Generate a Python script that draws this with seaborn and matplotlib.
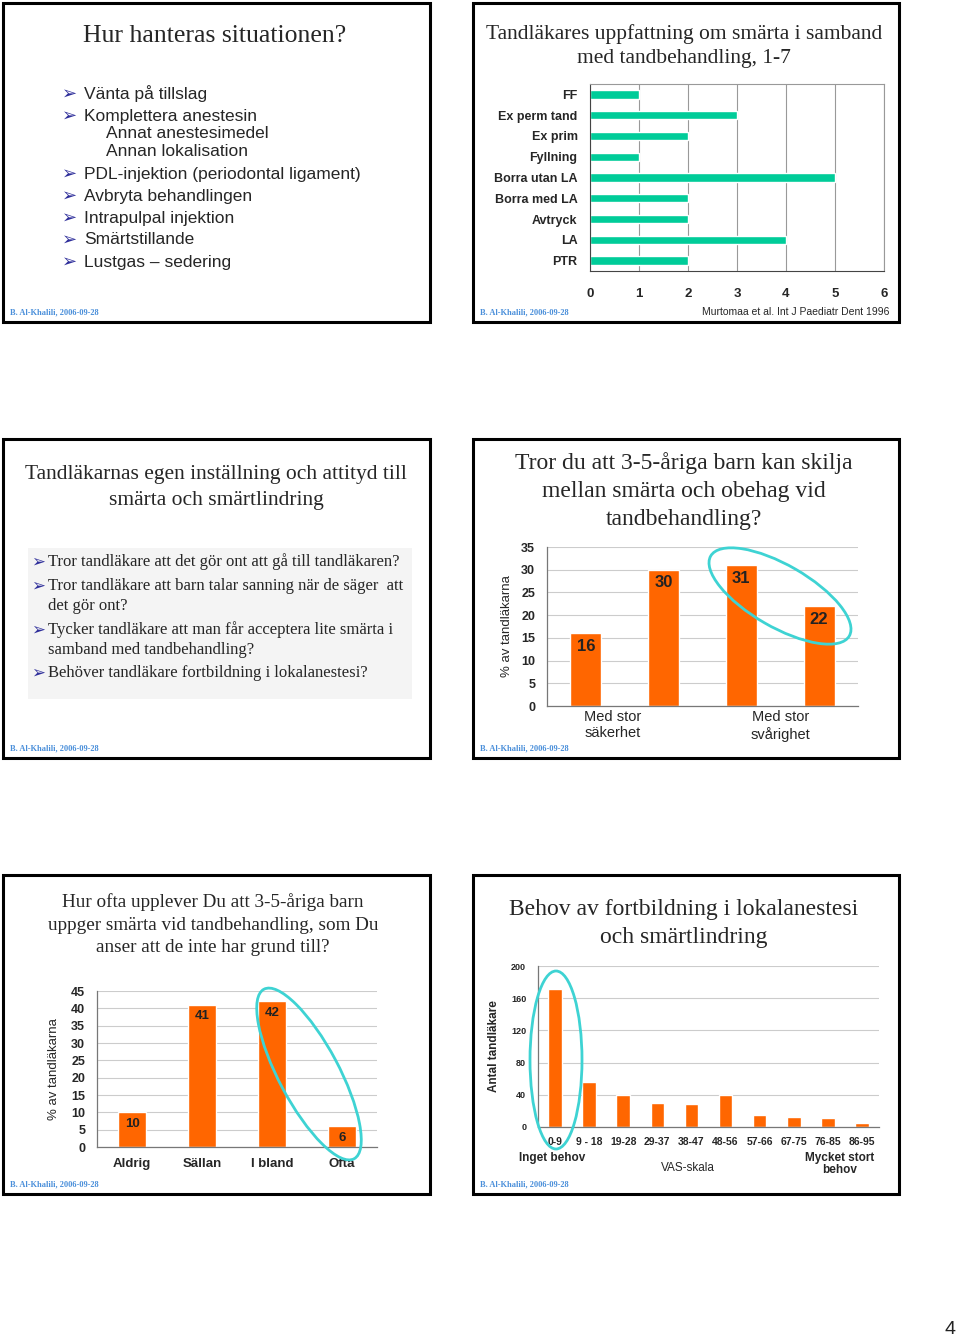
import matplotlib
matplotlib.use("Agg")
import numpy as np
import matplotlib.pyplot as plt
from matplotlib.patches import Rectangle, Ellipse
import seaborn as sns

# data
treat_labels = ["FF", "Ex perm tand", "Ex prim", "Fyllning", "Borra utan LA",
                "Borra med LA", "Avtryck", "LA", "PTR"]
treat_scores = [1, 3, 2, 1, 5, 2, 2, 4, 2]

skilja_bars = ["säkerhet a", "säkerhet b", "svårighet a", "svårighet b"]
skilja_vals = [16, 30, 31, 22]
skilja_groups = ["Med stor\nsäkerhet", "Med stor\nsvårighet"]

freq_cats = ["Aldrig", "Sällan", "I bland", "Ofta"]
freq_vals = [10, 41, 42, 6]

vas_cats = ["0-9", "9 - 18", "19-28", "29-37", "38-47", "48-56", "57-66", "67-75", "76-85", "86-95"]
vas_counts = [172, 56, 40, 30, 28, 40, 15, 12, 11, 5]

slide1_items = [("Vänta på tillslag", 0), ("Komplettera anestesin", 0),
                ("Annat anestesimedel", 1), ("Annan lokalisation", 1),
                ("PDL-injektion (periodontal ligament)", 0), ("Avbryta behandlingen", 0),
                ("Intrapulpal injektion", 0), ("Smärtstillande", 0), ("Lustgas – sedering", 0)]
slide3_items = [("Tror tandläkare att det gör ont att gå till tandläkaren?", True),
                ("Tror tandläkare att barn talar sanning när de säger  att", True),
                ("det gör ont?", False),
                ("Tycker tandläkare att man får acceptera lite smärta i", True),
                ("samband med tandbehandling?", False),
                ("Behöver tandläkare fortbildning i lokalanestesi?", True)]

GREEN = "#00CC99"
ORANGE = "#FF6600"
CYAN = "#3ED3D3"
ARROW = "#2E2E9A"
FOOT = "#4A8FDA"

sns.set_style("white")
plt.rcParams['font.family'] = ['Liberation Sans', 'DejaVu Sans']
SERIF = ['Liberation Serif', 'DejaVu Serif']

W, H = 960, 1340
fig = plt.figure(figsize=(9.6, 13.4), dpi=100)

bg = fig.add_axes([0, 0, 1, 1])
bg.set_xlim(0, W)
bg.set_ylim(H, 0)
bg.axis('off')


def px_axes(x0, y0, x1, y1):
    return fig.add_axes([x0 / W, 1 - y1 / H, (x1 - x0) / W, (y1 - y0) / H])


def slide_box(x0, y0, x1, y1):
    bg.add_patch(Rectangle((x0, y0), x1 - x0, y1 - y0, fc='white', ec='black', lw=2.2))
    bg.text(x0 + 7, y1 - 10, "B. Al-Khalili, 2006-09-28", family=SERIF, weight='bold',
            size=6, color=FOOT, va='center')


def title(cx, lines, ys, size):
    for line, y in zip(lines, ys):
        bg.text(cx, y, line, family=SERIF, size=size, ha='center', va='center')


def arrow(x, y, size):
    bg.text(x, y, "➢", family=['DejaVu Sans'], weight='bold', size=size, color=ARROW, va='center')


def bar_axes_style(ax, ylim, ystep, label_size):
    ax.set_ylim(*ylim)
    ax.set_yticks(np.arange(ylim[0], ylim[1] + 1, ystep))
    ax.yaxis.grid(True, color='#cccccc', lw=0.8)
    ax.set_axisbelow(True)
    for s in ['top', 'right']:
        ax.spines[s].set_visible(False)
    for s in ['left', 'bottom']:
        ax.spines[s].set_color('#777777')
        ax.spines[s].set_linewidth(0.9)
    ax.tick_params(axis='y', which='major', direction='inout', length=5, width=0.8,
                   color='#777777', labelsize=label_size, pad=6)
    for t in ax.get_yticklabels():
        t.set_fontweight('bold')
    ax.set_xlabel("")


def value_labels(ax, vals, size):
    for i, v in enumerate(vals):
        ax.annotate(str(v), (i, v), xytext=(0, -4), textcoords='offset points',
                    ha='center', va='top', weight='bold', size=size, color='#222222')


# slides
slide_box(3, 3, 430, 322)
slide_box(473, 3, 899, 322)
slide_box(3, 439, 430, 758)
slide_box(473, 439, 899, 758)
slide_box(3, 875, 430, 1194)
slide_box(473, 875, 899, 1194)

# slide 1
title(215, ["Hur hanteras situationen?"], [36], 18.5)
ys1 = [94, 116, 134, 152, 174, 196, 218, 240, 262]
for (txt, lvl), y in zip(slide1_items, ys1):
    if lvl == 0:
        arrow(62, y, 13)
        bg.text(84, y, txt, size=12.5, va='center')
    else:
        bg.text(106, y, txt, size=12.5, va='center')

# slide 2
title(684, ["Tandläkares uppfattning om smärta i samband", "med tandbehandling, 1-7"], [34, 59], 15.5)
ax2 = px_axes(590, 84, 884, 271)
sns.barplot(x=treat_scores, y=treat_labels, orient='h', color=GREEN, saturation=1,
            width=0.4, ax=ax2)
ax2.set_xlim(0, 6)
ax2.set_xticks(range(0, 7))
ax2.xaxis.grid(True, color='#999999', lw=0.8)
ax2.set_axisbelow(True)
for s in ax2.spines.values():
    s.set_color('#999999')
    s.set_linewidth(0.8)
ax2.spines['left'].set_color('#444444')
ax2.spines['bottom'].set_color('#444444')
ax2.set_yticks(np.arange(-0.5, len(treat_labels), 1), minor=True)
ax2.tick_params(axis='y', which='major', length=0, labelsize=9, pad=9)
ax2.tick_params(axis='y', which='minor', length=4, direction='out', color='#444444')
ax2.tick_params(axis='x', which='major', length=4, direction='out', color='#444444',
                labelsize=9.5, pad=8)
for t in ax2.get_yticklabels() + ax2.get_xticklabels():
    t.set_fontweight('bold')
bg.text(889, 312, "Murtomaa et al. Int J Paediatr Dent 1996", size=7.5, ha='right', va='center')

# slide 3
title(216, ["Tandläkarnas egen inställning och attityd till", "smärta och smärtlindring"], [475, 500], 15.5)
bg.add_patch(Rectangle((28, 548), 384, 151, fc='#f4f4f4', ec='none'))
ys3 = [562, 586, 606, 630, 650, 673]
for (txt, first), y in zip(slide3_items, ys3):
    if first:
        arrow(31, y, 12)
    bg.text(48, y, txt, family=SERIF, size=12, va='center')

# slide 4
title(684, ["Tror du att 3-5-åriga barn kan skilja", "mellan smärta och obehag vid",
            "tandbehandling?"], [463, 492, 520], 17)
ax4 = px_axes(547, 547, 858, 706)
sns.barplot(x=skilja_bars, y=skilja_vals, color=ORANGE, saturation=1, width=0.4, ax=ax4)
bar_axes_style(ax4, (0, 35), 5, 9)
ax4.set_xlim(-0.5, 3.5)
ax4.set_xticks([-0.5, 1.5, 3.5])
ax4.set_xticklabels([])
ax4.set_xticks([0.35, 2.5], minor=True)
ax4.set_xticklabels(skilja_groups, minor=True)
ax4.tick_params(axis='x', which='major', direction='inout', length=6, color='#777777')
ax4.tick_params(axis='x', which='minor', length=0, labelsize=10.5, pad=3)
ax4.set_ylabel("% av tandläkarna", size=9.5, labelpad=6)
value_labels(ax4, skilja_vals, 12)

# slide 5
title(213, ["Hur ofta upplever Du att 3-5-åriga barn", "uppger smärta vid tandbehandling, som Du",
            "anser att de inte har grund till?"], [902, 925, 947], 13.8)
ax5 = px_axes(97, 991, 377, 1147)
sns.barplot(x=freq_cats, y=freq_vals, color=ORANGE, saturation=1, width=0.4, ax=ax5)
bar_axes_style(ax5, (0, 45), 5, 9)
ax5.set_xlim(-0.5, 3.5)
ax5.set_xticks(np.arange(-0.5, 4, 1))
ax5.set_xticklabels([])
ax5.set_xticks(range(4), minor=True)
ax5.set_xticklabels(freq_cats, minor=True, weight='bold')
ax5.tick_params(axis='x', which='major', direction='inout', length=6, color='#777777')
ax5.tick_params(axis='x', which='minor', length=0, labelsize=9.5, pad=8)
ax5.set_ylabel("% av tandläkarna", size=9.5, labelpad=8)
value_labels(ax5, freq_vals, 9.5)

# slide 6
title(684, ["Behov av fortbildning i lokalanestesi", "och smärtlindring"], [910, 938], 17)
ax6 = px_axes(538, 966, 879, 1127)
sns.barplot(x=vas_cats, y=vas_counts, color=ORANGE, saturation=1, width=0.4, ax=ax6)
bar_axes_style(ax6, (0, 200), 40, 6.5)
ax6.set_xlim(-0.5, 9.5)
ax6.set_xticks(np.arange(-0.5, 10, 1))
ax6.set_xticklabels([])
ax6.set_xticks(range(10), minor=True)
ax6.set_xticklabels(vas_cats, minor=True, weight='bold')
ax6.tick_params(axis='x', which='major', direction='inout', length=5, color='#777777')
ax6.tick_params(axis='x', which='minor', length=0, labelsize=7.5, pad=7)
ax6.set_ylabel("Antal tandläkare", size=8.5, weight='bold', labelpad=8)
bg.text(552, 1158, "Inget behov", size=8.5, weight='bold', ha='center', va='center')
bg.text(688, 1168, "VAS-skala", size=8.5, ha='center', va='center')
bg.text(840, 1164, "Mycket stort\nbehov", size=8.5, weight='bold', ha='center', va='center',
        linespacing=1.1)

# page number
bg.text(950, 1330, "4", size=14, ha='center', va='center', color='#222222')

# highlight ellipses on top
top = fig.add_axes([0, 0, 1, 1])
top.set_xlim(0, W)
top.set_ylim(H, 0)
top.axis('off')
top.patch.set_alpha(0)
top.add_patch(Ellipse((780, 596), 160, 62, angle=30, fill=False, ec=CYAN, lw=2))
top.add_patch(Ellipse((309, 1074), 192, 60, angle=62, fill=False, ec=CYAN, lw=2))
top.add_patch(Ellipse((556, 1060), 52, 178, angle=0, fill=False, ec=CYAN, lw=2))

fig.savefig("out.png", dpi=100)
